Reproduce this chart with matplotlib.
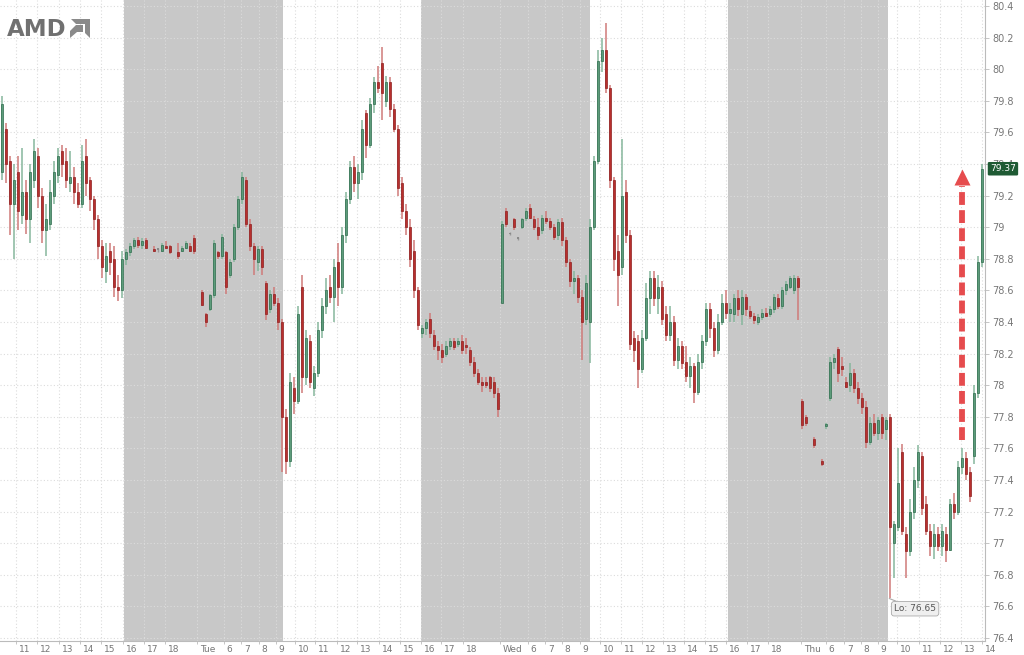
"""AMD intraday candles, Mon-Thu, with overnight sessions shaded."""
import numpy as np
import matplotlib
matplotlib.use("Agg")
import matplotlib.pyplot as plt
from matplotlib.patches import Polygon
from matplotlib.transforms import ScaledTranslation, blended_transform_factory

# ---- data: one candle per bar slot, None = no trade in that slot ----
opens = [
    79.35, 79.62, 79.42, 79.15, 79.35, 79.08, 79.22, 79.05, 79.30, 79.45,
    79.20, 78.98, 79.02, 79.20, 79.33, 79.48, 79.42, 79.28, 79.32, 79.22,
    79.15, 79.45, 79.30, 79.18, 79.05, 78.88, 78.72, 78.85, 78.80, 78.62,
    78.60, 78.80, 78.84, 78.88, 78.92, 78.89, 78.92, None, 78.86, 78.86,
    78.85, 78.88, 78.88, None, 78.84, 78.85, 78.87, 78.88, 78.93, None,
    78.59, 78.45, 78.48, 78.57, 78.84, 78.82, 78.84, 78.70, 78.80, 79.00,
    79.18, 79.30, 79.02, 78.88, 78.78, 78.86, 78.65, 78.48, 78.58, 78.52,
    78.40, 77.80, 77.52, 77.98, 77.90, 78.62, 78.05, 78.28, 77.98, 78.08,
    78.35, 78.50, 78.62, 78.56, 78.78, 78.62, 78.95, 79.18, 79.38, 79.28,
    79.35, 79.72, 79.52, 79.78, 79.92, 80.04, 79.80, 79.92, 79.75, 79.62,
    79.28, 79.10, 79.00, 78.85, 78.60, 78.33, 78.36, 78.42, 78.32, 78.25,
    78.22, 78.20, 78.25, 78.28, 78.26, 78.28, 78.25, 78.22, 78.15, 78.08,
    78.02, 78.02, 78.05, 78.02, 77.95, 78.52, 79.10, 78.96, 79.05, 78.93,
    79.00, 79.06, 79.12, 79.05, 79.00, 78.98, 79.06, 79.04, 79.00, 78.95,
    79.03, 78.92, 78.78, 78.66, 78.68, 78.56, 78.42, 78.40, 79.00, 79.42,
    80.05, 80.12, 79.88, 79.30, 78.85, 78.75, 79.22, 78.95, 78.30, 78.28,
    78.10, 78.30, 78.55, 78.68, 78.55, 78.62, 78.45, 78.32, 78.40, 78.16,
    78.25, 78.15, 78.06, 78.12, 77.96, 78.15, 78.28, 78.48, 78.36, 78.22,
    78.40, 78.52, 78.46, 78.45, 78.55, 78.45, 78.56, 78.47, 78.44, 78.40,
    78.43, 78.46, 78.45, 78.48, 78.55, 78.50, 78.60, 78.62, 78.60, 78.68,
    77.90, 77.80, None, 77.66, None, 77.52, 77.74, 77.92, 78.15, 78.23,
    78.12, 78.02, 78.00, 78.08, 77.98, 77.92, 77.86, 77.64, 77.76, 77.70,
    77.80, 77.72, 77.80, 77.00, 77.10, 77.58, 77.06, 76.95, 77.20, 77.40,
    77.55, 77.25, 77.08, 76.98, 77.06, 76.98, 77.06, 76.96, 77.25, 77.20,
    77.48, 77.54, 77.45, 77.55, 77.95, 78.78,
]
highs = [
    79.83, 79.66, 79.45, 79.40, 79.45, 79.50, 79.30, 79.40, 79.56, 79.50,
    79.25, 79.15, 79.30, 79.42, 79.50, 79.52, 79.50, 79.48, 79.38, 79.28,
    79.52, 79.56, 79.32, 79.20, 79.08, 78.92, 78.90, 78.90, 78.88, 78.70,
    78.85, 78.86, 78.90, 78.93, 78.94, 78.93, 78.93, None, 78.88, 78.87,
    78.90, 78.91, 78.89, None, 78.90, 78.88, 78.91, 78.90, 78.95, None,
    78.60, 78.46, 78.58, 78.92, 78.85, 78.96, 78.85, 78.80, 79.02, 79.20,
    79.35, 79.32, 79.05, 78.90, 78.88, 78.88, 78.66, 78.60, 78.62, 78.55,
    78.42, 77.85, 78.08, 78.05, 78.50, 78.70, 78.35, 78.32, 78.12, 78.40,
    78.55, 78.68, 78.70, 78.80, 78.90, 79.00, 79.22, 79.42, 79.45, 79.40,
    79.68, 79.74, 79.82, 79.95, 80.02, 80.14, 79.96, 79.95, 79.78, 79.65,
    79.32, 79.15, 79.05, 78.92, 78.62, 78.38, 78.42, 78.46, 78.35, 78.28,
    78.26, 78.28, 78.30, 78.30, 78.30, 78.32, 78.30, 78.24, 78.18, 78.10,
    78.05, 78.05, 78.06, 78.05, 77.98, 79.04, 79.12, 78.97, 79.06, 78.94,
    79.06, 79.12, 79.15, 79.07, 79.06, 79.08, 79.10, 79.06, 79.02, 79.05,
    79.06, 78.94, 78.80, 78.72, 78.70, 78.60, 78.70, 79.05, 79.45, 80.12,
    80.20, 80.29, 79.90, 79.32, 78.95, 79.56, 79.30, 78.98, 78.34, 78.32,
    78.35, 78.65, 78.72, 78.72, 78.70, 78.66, 78.50, 78.50, 78.44, 78.30,
    78.28, 78.25, 78.18, 78.14, 78.20, 78.32, 78.52, 78.52, 78.40, 78.45,
    78.58, 78.60, 78.52, 78.58, 78.60, 78.60, 78.58, 78.50, 78.46, 78.45,
    78.48, 78.49, 78.50, 78.58, 78.58, 78.62, 78.66, 78.69, 78.70, 78.69,
    77.91, 77.81, None, 77.67, None, 77.53, 77.76, 78.18, 78.20, 78.24,
    78.18, 78.05, 78.14, 78.10, 78.02, 77.95, 77.90, 77.80, 77.82, 77.80,
    77.82, 77.80, 77.82, 77.14, 77.60, 77.63, 77.10, 77.28, 77.48, 77.62,
    77.58, 77.30, 77.12, 77.12, 77.10, 77.12, 77.10, 77.28, 77.32, 77.52,
    77.60, 77.58, 77.48, 78.00, 78.82, 79.40,
]
lows = [
    79.30, 79.28, 78.95, 78.80, 78.98, 79.02, 78.96, 78.90, 79.25, 79.12,
    78.90, 78.82, 78.98, 79.15, 79.28, 79.32, 79.25, 79.22, 79.15, 79.12,
    79.12, 79.20, 79.10, 78.98, 78.80, 78.68, 78.65, 78.70, 78.56, 78.53,
    78.55, 78.76, 78.82, 78.86, 78.87, 78.86, 78.86, None, 78.84, 78.84,
    78.84, 78.86, 78.83, None, 78.80, 78.84, 78.86, 78.84, 78.83, None,
    78.50, 78.37, 78.47, 78.55, 78.80, 78.80, 78.58, 78.68, 78.78, 78.98,
    79.15, 79.00, 78.85, 78.70, 78.72, 78.70, 78.41, 78.46, 78.50, 78.35,
    77.45, 77.44, 77.48, 77.82, 77.88, 77.95, 78.00, 77.98, 77.93, 78.05,
    78.30, 78.45, 78.52, 78.40, 78.50, 78.58, 78.90, 79.15, 79.22, 79.18,
    79.30, 79.44, 79.50, 79.72, 79.85, 79.68, 79.76, 79.70, 79.60, 79.20,
    79.05, 78.95, 78.75, 78.55, 78.35, 78.30, 78.32, 78.30, 78.22, 78.16,
    78.14, 78.18, 78.22, 78.22, 78.24, 78.20, 78.20, 78.12, 78.05, 78.00,
    77.96, 77.98, 77.96, 77.92, 77.80, 78.52, 79.00, 78.95, 78.98, 78.92,
    78.99, 79.04, 79.05, 78.98, 78.92, 78.96, 79.02, 78.98, 78.92, 78.92,
    78.88, 78.75, 78.62, 78.58, 78.52, 78.16, 78.38, 78.14, 78.98, 79.40,
    79.98, 79.85, 79.25, 78.72, 78.50, 78.70, 78.90, 78.22, 78.15, 77.98,
    78.08, 78.28, 78.45, 78.50, 78.45, 78.38, 78.28, 78.28, 78.12, 78.10,
    78.10, 78.02, 77.98, 77.89, 77.94, 78.10, 78.25, 78.30, 78.18, 78.20,
    78.38, 78.42, 78.40, 78.40, 78.44, 78.38, 78.44, 78.42, 78.39, 78.38,
    78.41, 78.43, 78.43, 78.46, 78.48, 78.48, 78.57, 78.61, 78.58, 78.41,
    77.72, 77.74, None, 77.60, None, 77.49, 77.72, 77.90, 78.10, 78.02,
    78.06, 77.98, 77.96, 77.95, 77.88, 77.82, 77.60, 77.62, 77.68, 77.65,
    77.66, 77.65, 76.65, 76.78, 77.08, 77.05, 76.78, 76.92, 77.15, 77.35,
    77.18, 77.05, 76.92, 76.90, 76.95, 76.92, 76.88, 76.95, 77.15, 77.18,
    77.44, 77.40, 77.26, 77.50, 77.92, 78.75,
]
closes = [
    79.78, 79.40, 79.15, 79.30, 79.10, 79.22, 79.05, 79.35, 79.48, 79.20,
    78.98, 79.05, 79.22, 79.35, 79.45, 79.40, 79.30, 79.32, 79.22, 79.15,
    79.42, 79.28, 79.18, 79.05, 78.88, 78.75, 78.82, 78.78, 78.62, 78.60,
    78.80, 78.84, 78.88, 78.92, 78.89, 78.91, 78.87, None, 78.85, 78.86,
    78.89, 78.87, 78.84, None, 78.82, 78.87, 78.90, 78.85, 78.85, None,
    78.51, 78.40, 78.57, 78.90, 78.82, 78.94, 78.62, 78.78, 79.00, 79.18,
    79.32, 79.02, 78.88, 78.80, 78.86, 78.75, 78.45, 78.58, 78.52, 78.40,
    77.80, 77.52, 78.02, 77.90, 78.45, 78.05, 78.30, 78.02, 78.08, 78.35,
    78.50, 78.60, 78.56, 78.75, 78.62, 78.95, 79.18, 79.38, 79.28, 79.35,
    79.62, 79.52, 79.78, 79.92, 79.88, 79.85, 79.92, 79.75, 79.62, 79.25,
    79.10, 79.00, 78.80, 78.60, 78.38, 78.36, 78.40, 78.33, 78.25, 78.22,
    78.18, 78.25, 78.28, 78.24, 78.28, 78.22, 78.24, 78.15, 78.08, 78.02,
    78.00, 78.00, 77.98, 77.95, 77.85, 79.02, 79.02, 78.96, 79.00, 78.93,
    79.05, 79.10, 79.06, 79.00, 78.95, 79.06, 79.04, 79.00, 78.94, 79.03,
    78.92, 78.78, 78.66, 78.68, 78.56, 78.40, 78.65, 79.00, 79.42, 80.05,
    80.12, 79.88, 79.30, 78.80, 78.70, 79.20, 78.95, 78.26, 78.22, 78.10,
    78.30, 78.55, 78.68, 78.55, 78.62, 78.42, 78.32, 78.40, 78.16, 78.25,
    78.14, 78.06, 78.12, 77.96, 78.15, 78.28, 78.48, 78.36, 78.22, 78.40,
    78.52, 78.46, 78.48, 78.55, 78.48, 78.56, 78.48, 78.44, 78.41, 78.43,
    78.46, 78.44, 78.48, 78.56, 78.50, 78.60, 78.64, 78.68, 78.68, 78.62,
    77.75, 77.76, None, 77.62, None, 77.50, 77.75, 78.15, 78.17, 78.08,
    78.10, 77.99, 78.08, 77.98, 77.92, 77.86, 77.64, 77.76, 77.70, 77.78,
    77.70, 77.78, 77.10, 77.12, 77.38, 77.08, 76.95, 77.20, 77.40, 77.58,
    77.22, 77.08, 76.98, 77.06, 76.98, 77.08, 76.96, 77.25, 77.20, 77.48,
    77.54, 77.44, 77.30, 77.95, 78.78, 79.37,
]

# hour ticks (bar-slot positions) and their labels
tick_slots = [4.0, 9.25, 14.75, 20.0, 25.25, 30.75, 36.0, 41.25,
              49.25,
              56.0, 60.25, 64.75, 69.0, 73.75, 78.75, 84.25, 89.25, 94.75,
              100.0, 105.25, 110.25, 115.75,
              125.0,
              132.0, 136.25, 140.5, 145.0, 150.0, 155.25, 160.5, 165.75,
              171.0, 176.25, 181.5, 186.75, 192.0,
              200.25,
              206.5, 211.0, 215.25, 219.5, 224.25, 229.75, 235.0, 240.25, 245.5]
tick_labels = ["11", "12", "13", "14", "15", "16", "17", "18",
               "Tue",
               "6", "7", "8", "9", "10", "11", "12", "13", "14", "15", "16", "17", "18",
               "Wed",
               "6", "7", "8", "9", "10", "11", "12", "13", "14", "15", "16", "17", "18",
               "Thu",
               "6", "7", "8", "9", "10", "11", "12", "13", "14"]

# out-of-hours sessions (16:00 -> 09:30), in bar slots
overnight = [(30.5, 70.25), (104.75, 147.0), (181.5, 221.5)]

last_price = 79.37
session_low = 76.65

GREEN, GREEN_EDGE, GREEN_WICK = "#5d9c7b", "#2d6b4c", "#86b79c"
RED, RED_EDGE, RED_WICK = "#b8302e", "#8e1f1f", "#cf7b79"

o = np.array(opens, dtype=float)
h = np.array(highs, dtype=float)
l = np.array(lows, dtype=float)
c = np.array(closes, dtype=float)
x = np.arange(len(c))

fig = plt.figure(figsize=(10.24, 6.55), dpi=100)
ax = fig.add_axes([0.0, 14 / 655, 0.962, 641 / 655])
ax.set_facecolor("white")

for a, b in overnight:
    ax.axvspan(a, b, color="#c8c8c8", lw=0, zorder=0.1)

up = c > o
dn = c < o
fl = c == o
ax.vlines(x[up], l[up], h[up], color=GREEN_WICK, lw=1.1, zorder=3)
ax.vlines(x[dn], l[dn], h[dn], color=RED_WICK, lw=1.1, zorder=3)
ax.vlines(x[fl], l[fl], h[fl], color="#999999", lw=1.0, zorder=3)

body = np.maximum(np.abs(c - o), 0.012)
ax.bar(x[up], body[up], bottom=o[up], width=0.7, color=GREEN,
       edgecolor=GREEN_EDGE, lw=0.5, zorder=4)
ax.bar(x[dn], body[dn], bottom=c[dn], width=0.7, color=RED,
       edgecolor=RED_EDGE, lw=0.5, zorder=4)
ax.bar(x[fl], body[fl], bottom=o[fl] - 0.006, width=0.7, color="#8a8a8a",
       lw=0, zorder=4)

ax.set_xlim(-0.5, 245.75)
ax.set_ylim(76.381, 80.438)

# axes / ticks
ax.yaxis.tick_right()
yt = np.round(np.arange(76.4, 80.41, 0.2), 1)
ax.set_yticks(yt)
ax.set_yticklabels([f"{v:g}" for v in yt])
ax.set_xticks(np.array(tick_slots) - 0.5)
ax.set_xticklabels(tick_labels)
ax.tick_params(axis="y", labelsize=7, labelcolor="#777777", color="#bbbbbb",
               length=3, width=0.6, pad=2)
ax.tick_params(axis="x", labelsize=6.5, labelcolor="#777777", color="#bbbbbb",
               length=2, width=0.6, pad=1)
off = ScaledTranslation(2 / 72, 0, fig.dpi_scale_trans)
for t in ax.get_xticklabels():
    t.set_ha("left")
    t.set_transform(t.get_transform() + off)

for s in ["top", "left"]:
    ax.spines[s].set_visible(False)
for s in ["right", "bottom"]:
    ax.spines[s].set_color("#bbbbbb")
    ax.spines[s].set_linewidth(0.8)

ax.set_axisbelow(True)
ax.grid(True, color="#dcdcdc", ls=(0, (1, 2)), lw=0.8, zorder=0.5)

# last price tag (sits on top of the 79.4 tick label, as in the source chart)
trans = blended_transform_factory(ax.transAxes, ax.transData)
ax.text(1.005, last_price, f"{last_price:.2f}", transform=trans, ha="left",
        va="center", fontsize=6.5, color="white", clip_on=False, zorder=6,
        bbox=dict(boxstyle="round,pad=0.25,rounding_size=0.15", fc="#1f5a34", ec="none"))

# session low tag
ax.annotate(f"Lo: {session_low:.2f}", xy=(221.8, session_low), xytext=(223.0, 76.585),
            fontsize=6.5, color="#555555", ha="left", va="center", zorder=6,
            bbox=dict(boxstyle="round,pad=0.3", fc="#efefef", ec="#aaaaaa", lw=0.6),
            arrowprops=dict(arrowstyle="-", color="#aaaaaa", lw=0.8,
                            shrinkA=0, shrinkB=0))

# red dashed arrow
ax.plot([240, 240], [77.65, 79.26], color="#e4383b", lw=4.2, dashes=(2.2, 0.9),
        dash_capstyle="butt", alpha=0.9, zorder=7)
ax.plot([240], [79.315], marker="^", ms=11, color="#e4383b", alpha=0.9,
        mec="none", zorder=7)

# AMD logo
fig.text(7 / 1024, 1 - 29 / 655, "AMD", fontsize=16.5, fontweight="bold",
         color="#707070", ha="left", va="center")


def px(pts):
    return [(a / 1024, 1 - b / 655) for a, b in pts]


fig.patches.append(Polygon(px([(71, 19), (90, 19), (90, 38), (85, 33), (85, 24), (76, 24)]),
                           closed=True, fc="#8a8a8a", ec="none",
                           transform=fig.transFigure, figure=fig))
fig.patches.append(Polygon(px([(70, 31), (76, 25), (83, 25), (83, 32), (77, 32), (70, 38)]),
                           closed=True, fc="#8a8a8a", ec="none",
                           transform=fig.transFigure, figure=fig))

fig.savefig("out.png", dpi=100)
